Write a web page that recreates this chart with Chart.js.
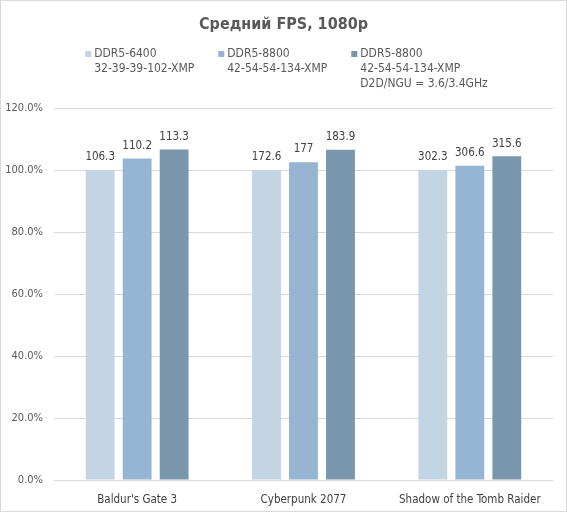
<!DOCTYPE html>
<html lang="ru">
<head>
<meta charset="utf-8">
<title>Средний FPS, 1080p</title>
<script src="https://cdn.jsdelivr.net/npm/chart.js@4"></script>
<style>
  html, body { margin: 0; padding: 0; background: #fff; }
  #wrap { width: 567px; height: 512px; }
</style>
</head>
<body>
<div id="wrap"><canvas id="chart" width="567" height="512"></canvas></div>
<script>
// данные
const categories = ["Baldur's Gate 3", 'Cyberpunk 2077', 'Shadow of the Tomb Raider'];
const seriesNames = [
  ['DDR5-6400', '32-39-39-102-XMP'],
  ['DDR5-8800', '42-54-54-134-XMP'],
  ['DDR5-8800', '42-54-54-134-XMP', 'D2D/NGU = 3.6/3.4GHz']
];
// высота столбцов, % от DDR5-6400
const pct6400 = [100, 100, 100];
const pct8800 = [103.7, 102.5, 101.4];
const pct8800Tuned = [106.6, 106.5, 104.4];
// подписи над столбцами, FPS
const fps6400 = [106.3, 172.6, 302.3];
const fps8800 = [110.2, 177, 306.6];
const fps8800Tuned = [113.3, 183.9, 315.6];
const yTicks = [0, 20, 40, 60, 80, 100, 120];

const colors = ['#C3D4E4', '#95B5D2', '#7A96AD'];
const FONT = '"DejaVu Sans Condensed", "DejaVu Sans", sans-serif';
const fpsLabels = [fps6400, fps8800, fps8800Tuned];

// подписи значений, заголовок, легенда и рамка
const decor = {
  id: 'decor',
  afterDatasetsDraw(chart) {
    const ctx = chart.ctx;
    ctx.save();
    ctx.font = '11.5px ' + FONT;
    ctx.fillStyle = '#404040';
    ctx.textAlign = 'center';
    ctx.textBaseline = 'bottom';
    chart.data.datasets.forEach((ds, i) => {
      chart.getDatasetMeta(i).data.forEach((bar, j) => {
        ctx.fillText(String(fpsLabels[i][j]), bar.x, bar.y - 7);
      });
    });
    ctx.restore();
  },
  afterDraw(chart) {
    const ctx = chart.ctx;
    const w = chart.width;
    ctx.save();
    // заголовок
    ctx.font = 'bold 16px ' + FONT;
    ctx.fillStyle = '#595959';
    ctx.textAlign = 'center';
    ctx.textBaseline = 'middle';
    ctx.fillText('Средний FPS, 1080p', w / 2, 25);
    // легенда
    ctx.font = '12px ' + FONT;
    ctx.textAlign = 'left';
    const gap = 24, box = 6, boxGap = 3;
    const widths = seriesNames.map(lines => box + boxGap + Math.max(...lines.map(l => ctx.measureText(l).width)));
    const total = widths.reduce((a, b) => a + b, 0) + gap * (widths.length - 1);
    let x = w / 2 - total / 2 + 3;
    seriesNames.forEach((lines, i) => {
      ctx.fillStyle = colors[i];
      ctx.fillRect(x, 51, box, box);
      ctx.fillStyle = '#595959';
      lines.forEach((l, k) => ctx.fillText(l, x + box + boxGap, 54 + k * 15));
      x += widths[i] + gap;
    });
    // рамка
    ctx.strokeStyle = '#D9D9D9';
    ctx.lineWidth = 1;
    ctx.strokeRect(0.5, 0.5, w - 1, chart.height - 1);
    ctx.restore();
  }
};

new Chart(document.getElementById('chart'), {
  type: 'bar',
  data: {
    labels: categories,
    datasets: [pct6400, pct8800, pct8800Tuned].map((d, i) => ({
      label: seriesNames[i].join(' '),
      data: d,
      backgroundColor: colors[i],
      categoryPercentage: 0.667,
      barPercentage: 0.78
    }))
  },
  options: {
    responsive: false,
    animation: false,
    devicePixelRatio: 1,
    layout: { padding: { top: 108, right: 14, bottom: 0, left: 0 } },
    plugins: { legend: { display: false }, title: { display: false }, tooltip: { enabled: false } },
    scales: {
      x: {
        grid: { display: false },
        border: { display: false },
        ticks: { color: '#404040', font: { family: FONT, size: 11.5 }, padding: 5 },
        afterFit(s) { s.height = 32; }
      },
      y: {
        min: 0, max: 120,
        afterBuildTicks(s) { s.ticks = yTicks.map(v => ({ value: v })); },
        grid: { color: '#D9D9D9', drawTicks: false },
        border: { display: false },
        ticks: {
          color: '#595959', font: { family: FONT, size: 11 }, padding: 11,
          callback: v => v.toFixed(1) + '%'
        },
        afterFit(s) { s.width = 54; }
      }
    }
  },
  plugins: [decor]
});
</script>
</body>
</html>
